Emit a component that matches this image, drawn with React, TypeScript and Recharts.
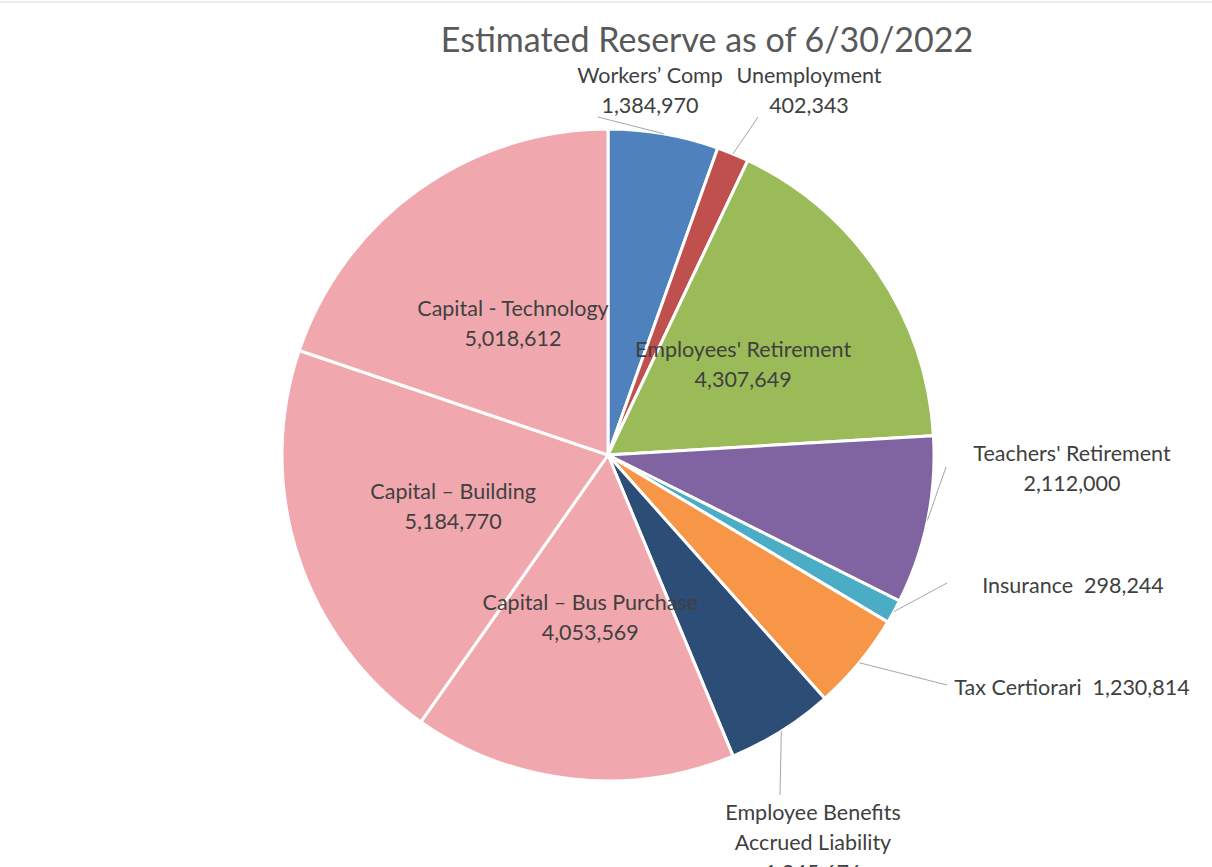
import { PieChart, Pie, Cell } from 'recharts';

const names = [
    'Workers’ Comp',
    'Unemployment',
    "Employees' Retirement",
    "Teachers' Retirement",
    'Insurance',
    'Tax Certiorari',
    'Employee Benefits\nAccrued Liability',
    'Capital – Bus Purchase',
    'Capital – Building',
    'Capital - Technology',
];

const values = [
    1384970, 402343, 4307649, 2112000, 298244, 1230814, 1345676, 4053569,
    5184770, 5018612,
];

const colors = [
    '#4F81BD',
    '#C0504D',
    '#9BBB59',
    '#8064A2',
    '#4BACC6',
    '#F79646',
    '#2C4D75',
    '#F0A8AE',
    '#F0A8AE',
    '#F0A8AE',
];

const data = names.map((name, i) => ({ name, value: values[i] }));

// where each label sits, offsets from the pie centre
type Place =
    | { kind: 'in' }
    | {
          kind: 'out';
          dx: number;
          dy: number;
          ax: number;
          ay: number;
          oneLine?: boolean;
      };

const placement: Place[] = [
    { kind: 'out', dx: 42, dy: -380, ax: -10, ay: -338 },
    { kind: 'out', dx: 201, dy: -380, ax: 150, ay: -338 },
    { kind: 'in' },
    { kind: 'out', dx: 464, dy: -2, ax: 338, ay: 12 },
    { kind: 'out', dx: 465, dy: 130, ax: 339, ay: 128, oneLine: true },
    { kind: 'out', dx: 464, dy: 232, ax: 339, ay: 230, oneLine: true },
    { kind: 'out', dx: 205, dy: 357, ax: 172, ay: 340 },
    { kind: 'in' },
    { kind: 'in' },
    { kind: 'in' },
];

const textColor = '#404040';
const font = 'Lato, "Open Sans", sans-serif';
const labelSize = 21.5;
const fmt = (v: number) => v.toLocaleString('en-US');

const renderLabel = (props: any) => {
    const { cx, cy, midAngle, outerRadius, index } = props;
    const RADIAN = Math.PI / 180;
    const place = placement[index];
    const nameLines: string[] = names[index].split('\n');
    const value = fmt(values[index]);

    if (place.kind === 'in') {
        const r = outerRadius * 0.5;
        const x = cx + r * Math.cos(-midAngle * RADIAN);
        const y = cy + r * Math.sin(-midAngle * RADIAN);
        return (
            <g key={`l-${index}`}>
                <text x={x} y={y - 15} textAnchor='middle' dominantBaseline='central'
                    fill={textColor} fontSize={labelSize} fontFamily={font}>
                    {nameLines[0]}
                </text>
                <text x={x} y={y + 15} textAnchor='middle' dominantBaseline='central'
                    fill={textColor} fontSize={labelSize} fontFamily={font}>
                    {value}
                </text>
            </g>
        );
    }

    const ex = cx + outerRadius * Math.cos(-midAngle * RADIAN);
    const ey = cy + outerRadius * Math.sin(-midAngle * RADIAN);
    const lines = place.oneLine
        ? [`${nameLines.join(' ')}\u00a0\u00a0${value}`]
        : [...nameLines, value];

    return (
        <g key={`l-${index}`}>
            <line x1={ex} y1={ey} x2={cx + place.ax} y2={cy + place.ay}
                stroke='#a6a6a6' strokeWidth={1} />
            {lines.map((t, i) => (
                <text key={i} x={cx + place.dx} y={cy + place.dy + i * 30}
                    textAnchor='middle' dominantBaseline='central'
                    fill={textColor} fontSize={labelSize} fontFamily={font}>
                    {t}
                </text>
            ))}
        </g>
    );
};

export default function App() {
    return (
        <div style={{ position: 'absolute', left: 0, top: 0, width: 1212, height: 867, background: '#fff' }}>
            <PieChart width={1212} height={867} margin={{ top: 0, right: 0, bottom: 0, left: 0 }}>
                <line x1={0} y1={2} x2={1212} y2={2} stroke='#d9d9d9' strokeWidth={1} />
                <text x={707} y={38} textAnchor='middle' dominantBaseline='central'
                    fill='#595959' fontSize={34} fontFamily={font}>
                    Estimated Reserve as of 6/30/2022
                </text>
                <Pie
                    data={data}
                    dataKey='value'
                    nameKey='name'
                    cx={608}
                    cy={455}
                    outerRadius={326}
                    startAngle={90}
                    endAngle={-270}
                    stroke='#ffffff'
                    strokeWidth={3}
                    labelLine={false}
                    label={renderLabel}
                    isAnimationActive={false}
                >
                    {data.map((_, i) => (
                        <Cell key={i} fill={colors[i]} />
                    ))}
                </Pie>
            </PieChart>
        </div>
    );
}
